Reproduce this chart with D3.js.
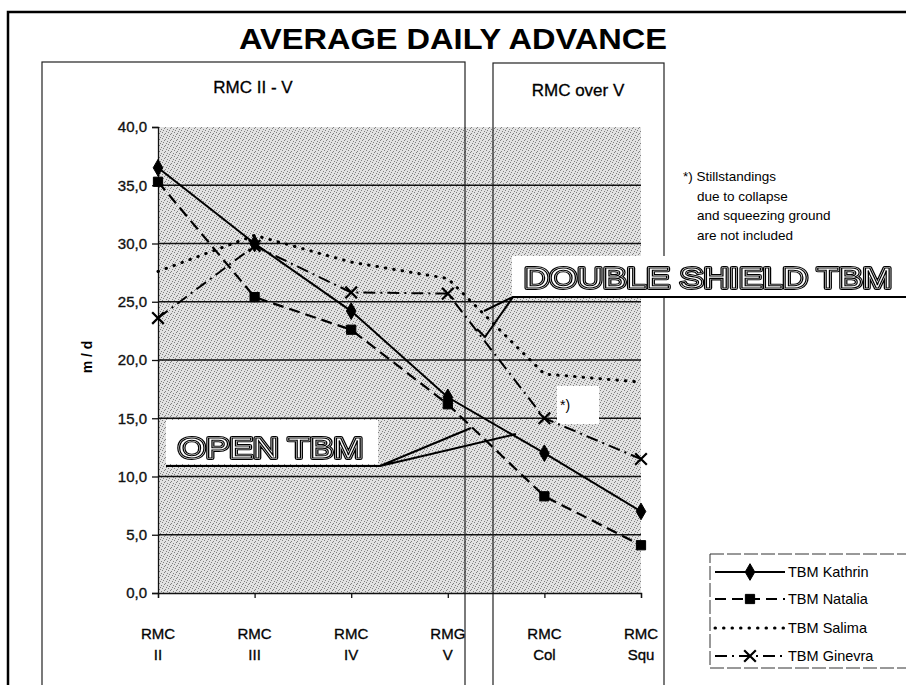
<!DOCTYPE html>
<html>
<head>
<meta charset="utf-8">
<script src="https://cdn.jsdelivr.net/npm/d3@7"></script>
<style>
  body { margin: 0; background: #fff; }
  text { font-family: "Liberation Sans", Arial, sans-serif; }
</style>
</head>
<body>
<div id="chart"></div>
<script>
// categories (two text lines each)
var categories = ["RMC II", "RMC III", "RMC IV", "RMC V", "RMC Col", "RMC Squ"];
var catTop = ["RMC", "RMC", "RMC", "RMG", "RMC", "RMC"];
var catBottom = ["II", "III", "IV", "V", "Col", "Squ"];

// average daily advance, m/d
var kathrin = [36.5, 30.0, 24.2, 16.8, 12.0, 7.0];
var natalia = [35.3, 25.4, 22.6, 16.2, 8.3, 4.1];
var salima  = [27.6, 30.7, 28.4, 27.0, 18.8, 18.1];
var ginevra = [23.6, 29.8, 25.8, 25.7, 15.0, 11.5];

var seriesNames = ["TBM Kathrin", "TBM Natalia", "TBM Salima", "TBM Ginevra"];
var yTicks = [0, 5, 10, 15, 20, 25, 30, 35, 40];
var footnote = ["*) Stillstandings", "due to collapse", "and squeezing ground", "are not included"];

var width = 906, height = 685;

var svg = d3.select("#chart").append("svg")
    .attr("width", width)
    .attr("height", height);

// stipple fill like the photocopied halftone
var defs = svg.append("defs");
var pat = defs.append("pattern")
    .attr("id", "stipple")
    .attr("width", 6).attr("height", 6)
    .attr("patternUnits", "userSpaceOnUse");
pat.append("rect").attr("width", 6).attr("height", 6).attr("fill", "#e2e2e2");
[[0, 0], [3, 1], [5, 3], [1, 4], [4, 5], [2, 2]].forEach(function(p) {
    pat.append("rect").attr("x", p[0]).attr("y", p[1])
        .attr("width", 1).attr("height", 1).attr("fill", "#808080");
});
// greyscale filter for the outlined labels
defs.append("filter").attr("id", "grey")
    .append("feColorMatrix").attr("type", "saturate").attr("values", 0);

var x = d3.scalePoint().domain(categories).range([158, 641]);
var y = d3.scaleLinear().domain([0, 40]).range([593, 127]);

var fmt = d3.formatLocale({decimal: ",", thousands: ".", grouping: [3], currency: ["", ""]}).format(".1f");

// outer frame
svg.append("rect")
    .attr("x", 8).attr("y", 12)
    .attr("width", 905).attr("height", 690)
    .attr("fill", "none").attr("stroke", "#000").attr("stroke-width", 2.5);

// title
svg.append("text")
    .attr("x", 453).attr("y", 49)
    .attr("text-anchor", "middle")
    .attr("font-size", 30).attr("font-weight", "bold")
    .attr("textLength", 428).attr("lengthAdjust", "spacingAndGlyphs")
    .text("AVERAGE DAILY ADVANCE");

// plot background
svg.append("rect")
    .attr("x", x.range()[0]).attr("y", y(40))
    .attr("width", x.range()[1] - x.range()[0])
    .attr("height", y(0) - y(40))
    .attr("fill", "url(#stipple)");

// horizontal grid lines
svg.append("g").selectAll("line")
    .data(yTicks.filter(d => d > 0 && d < 40))
    .enter().append("line")
    .attr("x1", x.range()[0]).attr("x2", x.range()[1])
    .attr("y1", d => y(d)).attr("y2", d => y(d))
    .attr("stroke", "#111").attr("stroke-width", 1.6);

// panel boxes
svg.append("rect")
    .attr("x", 42).attr("y", 62).attr("width", 423).attr("height", 640)
    .attr("fill", "none").attr("stroke", "#222").attr("stroke-width", 1.2);
svg.append("rect")
    .attr("x", 493).attr("y", 63).attr("width", 171).attr("height", 640)
    .attr("fill", "none").attr("stroke", "#222").attr("stroke-width", 1.2);

svg.append("text")
    .attr("x", 253).attr("y", 93)
    .attr("text-anchor", "middle").attr("font-size", 17)
    .attr("stroke", "#000").attr("stroke-width", 0.3)
    .text("RMC  II - V");
svg.append("text")
    .attr("x", 578).attr("y", 96)
    .attr("text-anchor", "middle").attr("font-size", 17)
    .attr("stroke", "#000").attr("stroke-width", 0.3)
    .text("RMC over V");

// white patch behind the "*)" note
svg.append("rect")
    .attr("x", 557).attr("y", 386).attr("width", 42).attr("height", 38)
    .attr("fill", "#fff");

// y axis
var yAxis = svg.append("g")
    .attr("transform", "translate(" + x.range()[0] + ",0)")
    .call(d3.axisLeft(y).tickValues(yTicks).tickSize(6).tickPadding(5).tickFormat(fmt));
yAxis.selectAll("text").attr("font-size", 15).attr("fill", "#111")
    .attr("stroke", "#111").attr("stroke-width", 0.35)
    .attr("font-family", "'Liberation Sans', Arial, sans-serif");
yAxis.selectAll("line, path").attr("stroke", "#111").attr("stroke-width", 1.3);

svg.append("text")
    .attr("transform", "translate(92,357) rotate(-90)")
    .attr("text-anchor", "middle").attr("font-size", 14).attr("font-weight", "bold")
    .text("m / d");

// x axis
var xAxis = svg.append("g")
    .attr("transform", "translate(0," + y(0) + ")")
    .call(d3.axisBottom(x).tickSize(5).tickFormat(""));
xAxis.selectAll("line, path").attr("stroke", "#111").attr("stroke-width", 1.3);

var xl = svg.append("g").selectAll("g")
    .data(categories)
    .enter().append("g")
    .attr("transform", d => "translate(" + x(d) + ",0)")
    .attr("stroke", "#111").attr("stroke-width", 0.35);
xl.append("text").attr("y", 639).attr("text-anchor", "middle").attr("font-size", 15)
    .text((d, i) => catTop[i]);
xl.append("text").attr("y", 660).attr("text-anchor", "middle").attr("font-size", 15)
    .text((d, i) => catBottom[i]);

// series
var seriesData = [kathrin, natalia, salima, ginevra];
var dashes = ["none", "11,6", "0.5,8", "12,5,2,5"];
var widths = [2, 2.2, 3, 2];
var symbols = [d3.symbolDiamond, d3.symbolSquare, null, d3.symbolTimes || d3.symbolX];
var symSize = [80, 85, 0, 90];

var line = d3.line()
    .x((d, i) => x(categories[i]))
    .y(d => y(d));

seriesData.forEach(function(vals, s) {
    svg.append("path")
        .datum(vals)
        .attr("d", line)
        .attr("fill", "none")
        .attr("stroke", "#000")
        .attr("stroke-width", widths[s])
        .attr("stroke-linecap", s == 2 ? "round" : "butt")
        .attr("stroke-dasharray", dashes[s]);
    if (symbols[s]) {
        svg.append("g").selectAll("path")
            .data(vals)
            .enter().append("path")
            .attr("transform", (d, i) => "translate(" + x(categories[i]) + "," + y(d) + ")")
            .attr("d", d3.symbol().type(symbols[s]).size(symSize[s]))
            .attr("fill", s == 3 ? "none" : "#000")
            .attr("stroke", "#000")
            .attr("stroke-width", s == 3 ? 2.2 : 1);
    }
});

svg.append("text")
    .attr("x", 560).attr("y", 410).attr("font-size", 14)
    .text("*)");

// footnote
svg.append("g").selectAll("text")
    .data(footnote)
    .enter().append("text")
    .attr("x", (d, i) => i == 0 ? 683 : 697)
    .attr("y", (d, i) => 181 + i * 19.5)
    .attr("font-size", 13.5)
    .text(d => d);

// outlined callout labels
function outlined(txt, tx, ty, len) {
    var g = svg.append("g").attr("filter", "url(#grey)");
    [[4.2, "#000"], [2.0, "#fff"]].forEach(function(st) {
        g.append("text")
            .attr("x", tx).attr("y", ty)
            .attr("font-size", 30).attr("font-family", "'DejaVu Sans', sans-serif")
            .attr("textLength", len).attr("lengthAdjust", "spacingAndGlyphs")
            .attr("fill", st[1]).attr("stroke", st[1]).attr("stroke-width", st[0])
            .attr("stroke-linejoin", "round")
            .text(txt);
    });
    g.append("text")
        .attr("x", tx).attr("y", ty)
        .attr("font-size", 30).attr("font-family", "'DejaVu Sans', sans-serif")
        .attr("textLength", len).attr("lengthAdjust", "spacingAndGlyphs")
        .attr("fill", "#fff").attr("stroke", "#000").attr("stroke-width", 1.1)
        .text(txt);
}

// DOUBLE SHIELD TBM callout
svg.append("rect")
    .attr("x", 512).attr("y", 256).attr("width", 394).attr("height", 40)
    .attr("fill", "#fff");
outlined("DOUBLE SHIELD TBM", 524, 288, 368);
svg.append("path")
    .attr("d", "M906,297 L513,297 L484,311 M513,297 L485,337 L477,329")
    .attr("fill", "none").attr("stroke", "#000").attr("stroke-width", 2);

// OPEN TBM callout
svg.append("rect")
    .attr("x", 166).attr("y", 420).attr("width", 212).attr("height", 44)
    .attr("fill", "#fff");
outlined("OPEN TBM", 178, 458, 185);
svg.append("path")
    .attr("d", "M166,466 L380,466 L471,428 M380,466 L516,434")
    .attr("fill", "none").attr("stroke", "#000").attr("stroke-width", 2);

// legend
var lg = svg.append("g");
lg.append("rect")
    .attr("x", 710).attr("y", 554).attr("width", 205).attr("height", 114)
    .attr("fill", "#fff").attr("stroke", "#333").attr("stroke-width", 1)
    .attr("stroke-dasharray", "14,3");
var legendY = [572, 599, 628, 656];
seriesNames.forEach(function(name, s) {
    lg.append("line")
        .attr("x1", 715).attr("x2", 785)
        .attr("y1", legendY[s]).attr("y2", legendY[s])
        .attr("stroke", "#000").attr("stroke-width", widths[s])
        .attr("stroke-linecap", s == 2 ? "round" : "butt")
        .attr("stroke-dasharray", dashes[s]);
    if (symbols[s]) {
        lg.append("path")
            .attr("transform", "translate(750," + legendY[s] + ")")
            .attr("d", d3.symbol().type(symbols[s]).size(symSize[s]))
            .attr("fill", s == 3 ? "none" : "#000")
            .attr("stroke", "#000")
            .attr("stroke-width", s == 3 ? 2.2 : 1);
    }
    lg.append("text")
        .attr("x", 788).attr("y", legendY[s] + 5)
        .attr("font-size", 14.5)
        .text(name);
});
</script>
</body>
</html>
